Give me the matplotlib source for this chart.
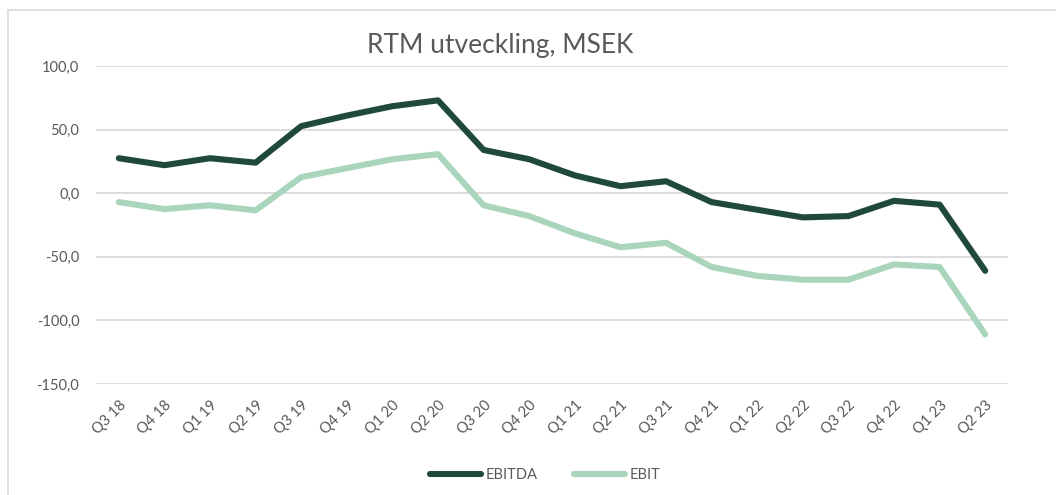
import matplotlib.pyplot as plt
import numpy as np
from matplotlib.patches import Rectangle

plt.rcParams['font.family'] = ['Lato', 'DejaVu Sans']

# Quartal och värden (RTM, MSEK)
kvartal = ['Q3 18', 'Q4 18', 'Q1 19', 'Q2 19', 'Q3 19', 'Q4 19', 'Q1 20', 'Q2 20',
           'Q3 20', 'Q4 20', 'Q1 21', 'Q2 21', 'Q3 21', 'Q4 21', 'Q1 22', 'Q2 22',
           'Q3 22', 'Q4 22', 'Q1 23', 'Q2 23']
ebitda = [27.5, 22.0, 27.5, 24.0, 52.7, 61.0, 68.4, 73.0, 34.0, 26.7,
          14.0, 5.5, 9.4, -7.0, -13.0, -19.0, -18.0, -6.0, -9.0, -61.0]
ebit = [-7.0, -12.5, -9.5, -13.5, 12.6, 19.7, 26.7, 30.7, -9.5, -18.0,
        -31.5, -42.5, -39.0, -58.0, -65.0, -68.0, -68.0, -56.0, -58.0, -111.0]

grey = '#595959'
fig = plt.figure(figsize=(10.56, 4.95), dpi=100)
ax = fig.add_axes([96/1056, 1-384/495, (1008-96)/1056, (384-66)/495])

# ram runt diagrammet
fig.patches.append(Rectangle((8/1056, -0.1), 1.2, 1-10/495+0.1, transform=fig.transFigure,
                             fill=False, edgecolor='#d9d9d9', linewidth=1.2))

x = np.arange(len(kvartal))
ax.plot(x, ebitda, color='#1f4a3b', lw=4.4, label='EBITDA', solid_capstyle='round', solid_joinstyle='round')
ax.plot(x, ebit, color='#a8d5bb', lw=4.4, label='EBIT', solid_capstyle='round', solid_joinstyle='round')

ax.set_xlim(-0.5, len(kvartal) - 0.5)
ax.set_ylim(-150, 100)
ax.set_yticks([-150, -100, -50, 0, 50, 100])
ax.set_yticklabels([f'{v:.1f}'.replace('.', ',') for v in [-150, -100, -50, 0, 50, 100]])
ax.set_xticks(x)
ax.set_xticklabels(kvartal, rotation=45, ha='right', rotation_mode='anchor')
ax.tick_params(axis='both', length=0, colors=grey, labelsize=10.5)
ax.tick_params(axis='x', pad=10)
ax.tick_params(axis='y', pad=12)
ax.grid(axis='y', color='#d9d9d9', lw=1.3)
ax.set_axisbelow(True)
for s in ax.spines.values():
    s.set_visible(False)

fig.text(500/1056, 1-45/495, 'RTM utveckling, MSEK', ha='center', va='center', fontsize=19, color=grey)
fig.legend(loc='center', bbox_to_anchor=(545/1056, 1-475/495), ncol=2, frameon=False,
           fontsize=10.5, labelcolor=grey, handlelength=3.5, handletextpad=0.3, columnspacing=2.5)

fig.savefig('out.png', dpi=100)
